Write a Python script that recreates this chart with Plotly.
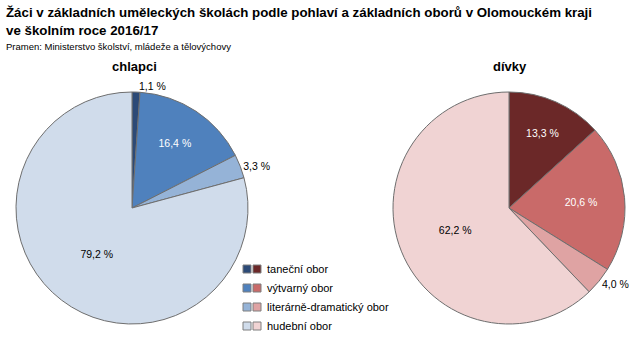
import plotly.graph_objects as go

categories = ["taneční obor", "výtvarný obor", "literárně-dramatický obor", "hudební obor"]
boys = [1.1, 16.4, 3.3, 79.2]
girls = [13.3, 20.6, 4.0, 62.2]
boys_colors = ["#2C4A77", "#4F81BD", "#95B3D7", "#D0DCEB"]
girls_colors = ["#6B2828", "#C96A69", "#DFA3A3", "#F0D3D3"]
titles = ["chlapci", "dívky"]

W, H = 643, 352

def fmt(v):
    return f"{v:.1f}".replace(".", ",") + " %"

def pie(values, colors, domx, domy, textcolors, positions):
    return go.Pie(
        labels=categories, values=values, sort=False, direction="clockwise", rotation=0,
        marker=dict(colors=colors, line=dict(color="#6E6E6E", width=1)),
        text=[fmt(v) for v in values], textinfo="text", hoverinfo="label+text",
        textposition=positions,
        insidetextfont=dict(color=textcolors, size=10.5, family="Liberation Sans"),
        outsidetextfont=dict(color="#000000", size=10.5, family="Liberation Sans"),
        insidetextorientation="horizontal",
        domain=dict(x=domx, y=domy), showlegend=False,
    )

fig = go.Figure()
fig.add_trace(pie(boys, boys_colors, [16 / W, 248 / W], [28 / H, 260 / H],
                  ["#FFFFFF", "#FFFFFF", "#000000", "#000000"],
                  ["outside", "inside", "outside", "inside"]))
fig.add_trace(pie(girls, girls_colors, [393 / W, 625 / W], [28 / H, 260 / H],
                  ["#FFFFFF", "#FFFFFF", "#000000", "#000000"],
                  ["inside", "inside", "outside", "inside"]))

annotations = [
    dict(text="<b>Žáci v základních uměleckých školách podle pohlaví a základních oborů v Olomouckém kraji</b>",
         x=4 / W, y=1 - 3 / H, xanchor="left", yanchor="top", showarrow=False,
         font=dict(size=13.3, family="Liberation Sans", color="#000")),
    dict(text="<b>ve školním roce 2016/17</b>",
         x=4 / W, y=1 - 21 / H, xanchor="left", yanchor="top", showarrow=False,
         font=dict(size=13.3, family="Liberation Sans", color="#000")),
    dict(text="Pramen: Ministerstvo školství, mládeže a tělovýchovy",
         x=4 / W, y=1 - 39 / H, xanchor="left", yanchor="top", showarrow=False,
         font=dict(size=9.5, family="Liberation Sans", color="#000")),
    dict(text="<b>" + titles[0] + "</b>", x=134 / W, y=1 - 66 / H, xanchor="center", yanchor="middle",
         showarrow=False, font=dict(size=13, family="Liberation Sans", color="#000")),
    dict(text="<b>" + titles[1] + "</b>", x=510 / W, y=1 - 66 / H, xanchor="center", yanchor="middle",
         showarrow=False, font=dict(size=13, family="Liberation Sans", color="#000")),
]

shapes = []
for i, cat in enumerate(categories):
    yc = 269 + i * 19
    for j, col in enumerate([boys_colors[i], girls_colors[i]]):
        x0 = 243 + j * 10
        shapes.append(dict(type="rect", xref="paper", yref="paper",
                           x0=x0 / W, x1=(x0 + 8) / W, y0=1 - (yc + 4) / H, y1=1 - (yc - 4) / H,
                           fillcolor=col, line=dict(color="#7F7F7F", width=1)))
    annotations.append(dict(text=cat, x=265 / W, y=1 - yc / H, xanchor="left", yanchor="middle",
                            showarrow=False, font=dict(size=11, family="Liberation Sans", color="#000")))

fig.update_layout(width=W, height=H, autosize=False, margin=dict(l=0, r=0, t=0, b=0),
                  paper_bgcolor="#FFFFFF", plot_bgcolor="#FFFFFF",
                  annotations=annotations, shapes=shapes)
fig.write_html("out.html")
